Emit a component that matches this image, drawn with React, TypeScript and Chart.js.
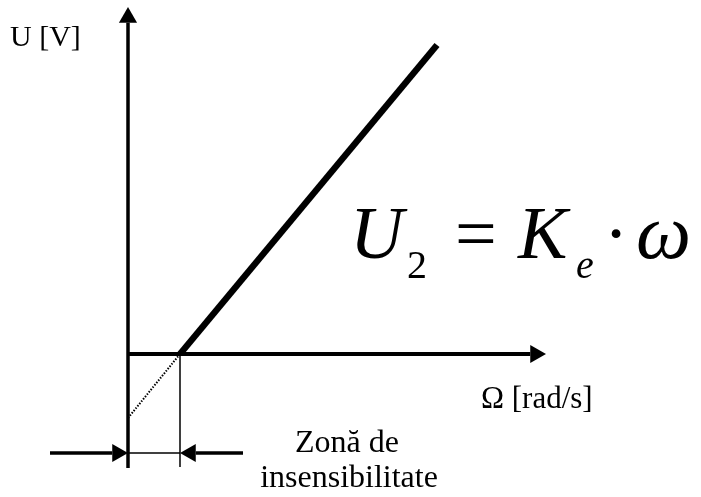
import React, { useEffect, useRef } from "react";
import { Chart, registerables } from "chart.js";

Chart.register(...registerables);

// Axis extents (Ω horizontal, U vertical), in drawing units
const omegaAxis = [0, 418];
const uAxis = [-114, 347];
// Dead zone (zona de insensibilitate) limit
const omegaDead = 52;
// Characteristic U2 = Ke * ω (after the dead zone)
const charOmega = [52, 309];
const charU = [0, 309];
// Extrapolated (dotted) part below the Ω axis
const dottedOmega = [0, 52];
const dottedU = [-64, 0];
// Dimension line for the dead zone
const dimY = -99;
const dimLeft = [-78, 0];
const dimRight = [52, 115];
const deadMarkerBottom = -113;

const ARROW_R = 10.5;

const textPlugin = {
  id: "labels",
  afterDraw(chart: any) {
    const ctx = chart.ctx;
    ctx.save();
    ctx.fillStyle = "#000";
    ctx.textBaseline = "alphabetic";
    ctx.textAlign = "left";
    ctx.font = '30px "Liberation Serif", "Times New Roman", serif';
    ctx.fillText("U [V]", 10, 46);
    ctx.font = '31px "Liberation Serif", "Times New Roman", serif';
    ctx.fillText("Ω [rad/s]", 481, 408);
    ctx.font = '32px "Liberation Serif", "Times New Roman", serif';
    ctx.textAlign = "center";
    ctx.fillText("Zonă de", 347, 452);
    ctx.fillText("insensibilitate", 349, 487);
    ctx.textAlign = "left";
    const big = 74;
    const small = 40;
    ctx.font = `italic ${big}px "Liberation Serif", "Times New Roman", serif`;
    ctx.fillText("U", 350, 258);
    ctx.font = `${small}px "Liberation Serif", "Times New Roman", serif`;
    ctx.fillText("2", 407, 278);
    ctx.font = `${big}px "Liberation Serif", "Times New Roman", serif`;
    ctx.fillText("=", 455, 258);
    ctx.font = `italic ${big}px "Liberation Serif", "Times New Roman", serif`;
    ctx.fillText("K", 518, 258);
    ctx.font = `italic ${small}px "Liberation Serif", "Times New Roman", serif`;
    ctx.fillText("e", 576, 278);
    ctx.font = `${big}px "Liberation Serif", "Times New Roman", serif`;
    ctx.textAlign = "center";
    ctx.fillText("·", 616, 258);
    ctx.textAlign = "left";
    ctx.font = `italic ${big + 4}px "Liberation Serif", "Times New Roman", serif`;
    ctx.fillText("ω", 636, 258);
    ctx.restore();
  },
};

function seg(xs: number[], ys: number[]) {
  return xs.map((x, i) => ({ x, y: ys[i] }));
}

export default function App() {
  const ref = useRef<HTMLCanvasElement>(null);
  useEffect(() => {
    if (!ref.current) return;
    const lineDs = (data: any[], width: number, extra: any = {}) => ({
      type: "line",
      data,
      showLine: true,
      borderColor: "#000",
      borderWidth: width,
      pointRadius: 0,
      borderCapStyle: "butt",
      fill: false,
      tension: 0,
      clip: false,
      ...extra,
    });
    const chart = new Chart(ref.current, {
      type: "scatter",
      data: {
        datasets: [
          lineDs(seg([0, 0], [uAxis[0], uAxis[1] - 1.5 * ARROW_R]), 3.5) as any,
          lineDs(seg([omegaAxis[0], omegaAxis[1] - 1.5 * ARROW_R], [0, 0]), 4) as any,
          lineDs(seg(charOmega, charU), 6.5) as any,
          lineDs(seg(dottedOmega, dottedU), 2, { borderDash: [1.5, 1.5] }) as any,
          lineDs(seg([omegaDead, omegaDead], [0, deadMarkerBottom]), 1.5) as any,
          lineDs(seg([dimLeft[0], dimLeft[1] - 1.5 * ARROW_R], [dimY, dimY]), 3.5) as any,
          lineDs(seg([0, omegaDead], [dimY, dimY]), 1.5) as any,
          lineDs(seg([dimRight[0] + 1.5 * ARROW_R, dimRight[1]], [dimY, dimY]), 3.5) as any,
          {
            type: "scatter",
            data: [
              { x: 0, y: uAxis[1] - ARROW_R },
              { x: omegaAxis[1] - ARROW_R, y: 0 },
              { x: dimLeft[1] - ARROW_R, y: dimY },
              { x: dimRight[0] + ARROW_R, y: dimY },
            ],
            pointStyle: "triangle",
            pointRadius: ARROW_R,
            pointRotation: [0, 90, 90, 270],
            backgroundColor: "#000",
            borderColor: "#000",
            borderWidth: 0,
            clip: false,
          } as any,
        ],
      },
      options: {
        animation: false,
        responsive: false,
        devicePixelRatio: 1,
        layout: { padding: 0, autoPadding: false },
        plugins: { legend: { display: false }, tooltip: { enabled: false } },
        events: [],
        scales: {
          x: { type: "linear", min: -128, max: 573, display: false },
          y: { type: "linear", min: -143, max: 354, display: false },
        },
      },
      plugins: [textPlugin],
    } as any);
    return () => chart.destroy();
  }, []);
  return (
    <div style={{ position: "fixed", left: 0, top: 0, width: 701, height: 497, background: "#fff" }}>
      <canvas ref={ref} width={701} height={497} style={{ width: 701, height: 497 }} />
    </div>
  );
}
